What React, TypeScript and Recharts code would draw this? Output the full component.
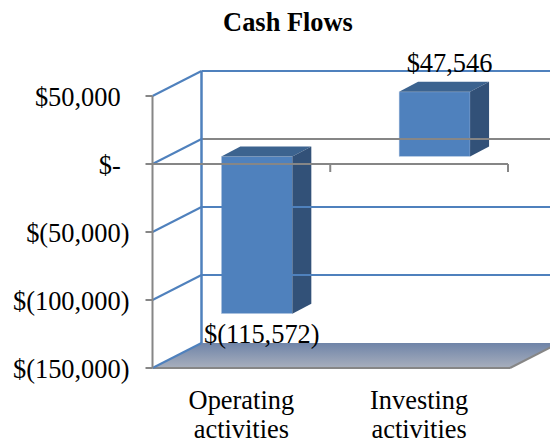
import { Bar, BarChart, LabelList, ReferenceLine, XAxis, YAxis } from 'recharts';

const CATEGORIES = ['Operating activities', 'Investing activities'];
const VALUES = [-115572, 47546];
const Y_TICKS = [50000, 0, -50000, -100000, -150000];

const BLUE = '#4f81bd';
const GREY = '#868686';
const FONT = '"Liberation Serif", "Times New Roman", serif';
const FONT_SIZE = 26.4;

// 3D look: depth of the back wall and of the bars
const WALL_DX = 49;
const WALL_DY = -25;
const BAR_DX = 19;
const BAR_DY = -10;
const BAR_SHIFT_X = 15.5;
const BAR_SHIFT_Y = -7.5;

const rows = CATEGORIES.map((name, i) => ({ name, value: VALUES[i] }));

function money(v: number) {
  if (v === 0) return '$-';
  const s = Math.abs(v).toLocaleString('en-US');
  return v < 0 ? `$(${s})` : `$${s}`;
}

function WallLine(props: any) {
  const { x1, y1, x2, y2, backColor } = props;
  return (
    <g fill="none" strokeWidth={2}>
      <line x1={x1 + WALL_DX} y1={y1 + WALL_DY} x2={x2 + 60} y2={y2 + WALL_DY} stroke={backColor} />
      <line x1={x1} y1={y1} x2={x1 + WALL_DX} y2={y1 + WALL_DY} stroke={BLUE} />
    </g>
  );
}

function Floor(props: any) {
  const { x1, y1, x2 } = props;
  const pts = [
    [x1, y1],
    [x2 + 2, y1],
    [x2 + 2 + WALL_DX, y1 + WALL_DY],
    [x1 + WALL_DX, y1 + WALL_DY],
  ];
  return (
    <g>
      <polygon points={pts.map((p) => p.join(',')).join(' ')} fill="url(#floorFill)" />
      <line x1={x1} y1={y1} x2={x2 + 2} y2={y1} stroke={GREY} strokeWidth={2} />
      <line x1={x2 + 2} y1={y1} x2={x2 + 2 + WALL_DX} y2={y1 + WALL_DY} stroke={GREY} strokeWidth={2} />
      <line x1={x1} y1={y1} x2={x1 + WALL_DX} y2={y1 + WALL_DY} stroke={BLUE} strokeWidth={2} />
    </g>
  );
}

function BackPost(props: any) {
  const { x1, y1, y2 } = props;
  return <line x1={x1 + WALL_DX} y1={y1 + WALL_DY} x2={x1 + WALL_DX} y2={y2 + WALL_DY} stroke={BLUE} strokeWidth={2.5} />;
}

function ZeroAxis(props: any) {
  const { x1, y1, x2 } = props;
  const mid = (x1 + x2) / 2;
  return (
    <g stroke={GREY} strokeWidth={2}>
      <line x1={x1} y1={y1} x2={x2} y2={y1} />
      <line x1={mid} y1={y1} x2={mid} y2={y1 + 8} />
      <line x1={x2} y1={y1} x2={x2} y2={y1 + 8} />
    </g>
  );
}

function Box(props: any) {
  const { x, y, width, height, index } = props;
  const left = x + BAR_SHIFT_X;
  const right = left + width;
  const rawTop = Math.min(y, y + height);
  const top = rawTop + BAR_SHIFT_Y;
  const bottom = top + Math.abs(height);
  return (
    <g>
      <rect x={left} y={top} width={width} height={bottom - top} fill={BLUE} stroke="#c9d7ea" strokeWidth={0.5} />
      <polygon
        points={`${left},${top} ${right},${top} ${right + BAR_DX},${top + BAR_DY} ${left + BAR_DX},${top + BAR_DY}`}
        fill="#3c638f"
      />
      <polygon
        points={`${right},${top} ${right + BAR_DX},${top + BAR_DY} ${right + BAR_DX},${bottom + BAR_DY} ${right},${bottom}`}
        fill="#325178"
      />
      {/* the front axis passes in front of a bar that hangs below zero */}
      {VALUES[index] < 0 && (
        <line x1={left - 1} y1={rawTop} x2={right + BAR_DX + 1} y2={rawTop} stroke={GREY} strokeWidth={2} />
      )}
    </g>
  );
}

function ValueLabel(props: any) {
  const { x, y, width, height, value } = props;
  const top = Math.min(y, y + height) + BAR_SHIFT_Y;
  const bottom = top + Math.abs(height);
  const cx = x + width / 2 + BAR_SHIFT_X + (value < 0 ? 5 : 15);
  const base = value < 0 ? bottom + 29 : top - 20;
  return (
    <text x={cx} y={base} textAnchor="middle" fontFamily={FONT} fontSize={FONT_SIZE} fill="#000">
      {money(value)}
    </text>
  );
}

function CategoryTick(props: any) {
  const { x, payload } = props;
  const [a, b] = String(payload.value).split(' ');
  return (
    <text textAnchor="middle" fontFamily={FONT} fontSize={FONT_SIZE} fill="#000">
      <tspan x={x} y={409}>{a}</tspan>
      <tspan x={x} y={438}>{b}</tspan>
    </text>
  );
}

function ValueTick(props: any) {
  const { x, y, payload } = props;
  // accounting format: numbers without a closing bracket leave room for one
  const pad = payload.value < 0 ? 0 : FONT_SIZE / 3;
  return (
    <text x={x - pad} y={y + 10} textAnchor="end" fontFamily={FONT} fontSize={FONT_SIZE} fill="#000">
      {money(payload.value)}
    </text>
  );
}

export default function App() {
  return (
    <div style={{ position: 'absolute', left: 0, top: 0, width: 550, height: 443 }}>
      <BarChart
        width={550}
        height={443}
        data={rows}
        margin={{ top: 96, right: 42, bottom: 0, left: 0 }}
        barCategoryGap="30%"
      >
        <defs>
          <linearGradient id="floorFill" x1="0" y1="0" x2="0" y2="1">
            <stop offset="0%" stopColor="#6f84a8" />
            <stop offset="100%" stopColor="#a8afbd" />
          </linearGradient>
        </defs>
        <text x={288} y={31} textAnchor="middle" fontFamily={FONT} fontSize={FONT_SIZE} fontWeight="bold" fill="#000">
          Cash Flows
        </text>
        <XAxis dataKey="name" height={75} axisLine={false} tickLine={false} interval={0} tick={<CategoryTick />} />
        <YAxis
          width={152.5}
          domain={[-150000, 50000]}
          ticks={Y_TICKS}
          interval={0}
          tickSize={7}
          tickMargin={16}
          axisLine={{ stroke: GREY, strokeWidth: 2 }}
          tickLine={{ stroke: GREY, strokeWidth: 2 }}
          tick={<ValueTick />}
        />
        <ReferenceLine y={-150000} shape={<Floor />} />
        {Y_TICKS.slice(0, 4).map((t) => (
          <ReferenceLine key={t} y={t} shape={<WallLine backColor={t === 0 ? GREY : BLUE} />} />
        ))}
        <ReferenceLine x={CATEGORIES[0]} position="start" shape={<BackPost />} />
        <ReferenceLine y={0} shape={<ZeroAxis />} />
        <Bar dataKey="value" isAnimationActive={false} shape={<Box />}>
          <LabelList dataKey="value" content={<ValueLabel />} />
        </Bar>
      </BarChart>
    </div>
  );
}
